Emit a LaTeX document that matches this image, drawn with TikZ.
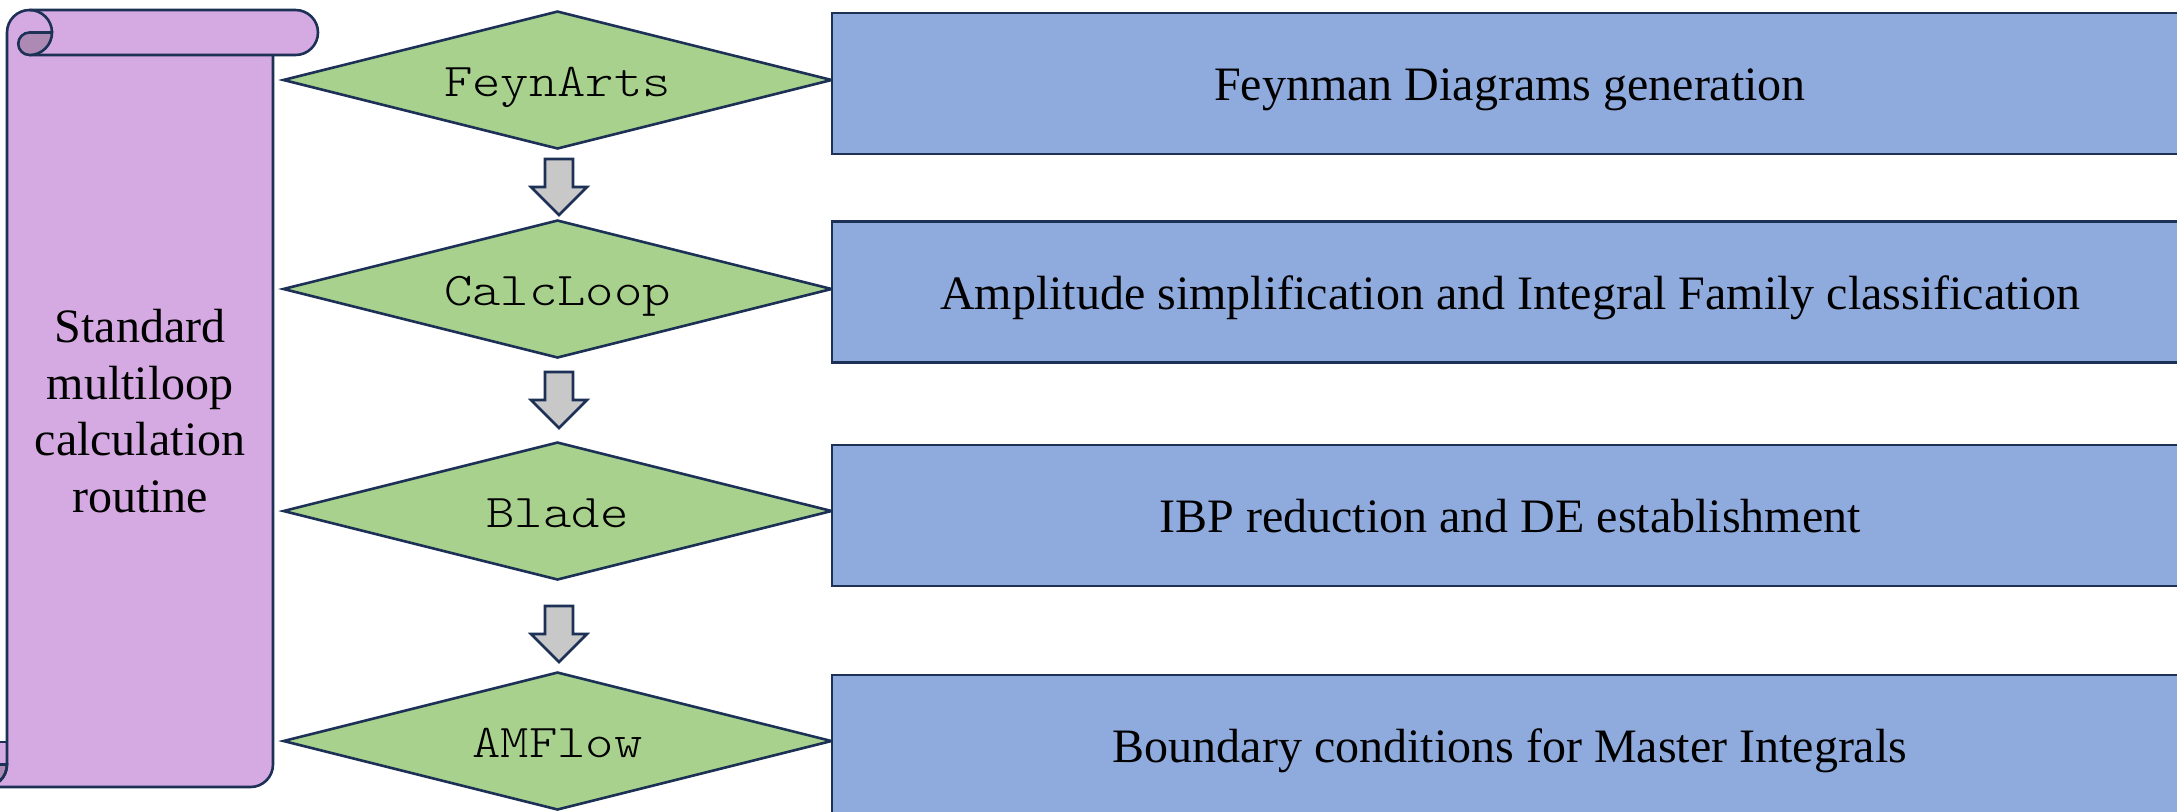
\documentclass[tikz,border=0pt]{standalone}
\usepackage{fontspec}
\setmainfont{Liberation Serif}
\setmonofont[FakeStretch=1.15]{lmmonolt10-regular.otf}
\usetikzlibrary{shapes.geometric}
\definecolor{edge}{HTML}{1C3155}
\definecolor{scrollc}{HTML}{D5A9E1}
\definecolor{curlc}{HTML}{AC8AB4}
\definecolor{toolc}{HTML}{A9D18E}
\definecolor{jobc}{HTML}{8FAADC}
\definecolor{flowc}{HTML}{C8C8C8}
\tikzset{
  tool/.style = {
    diamond, aspect=4, draw=edge, fill=toolc, inner sep=0pt,
    minimum width=274.5pt, minimum height=69pt,
    text height=21.6pt, text depth=5pt, % line box as in the slide
    font=\ttfamily\fontsize{23.5}{28}\selectfont
  },
  job/.style  = {draw=edge, fill=jobc, minimum width=678pt, minimum height=70.5pt,
    text height=21.8pt, text depth=4.8pt,
    font=\fontsize{24}{28.4}\selectfont},
  flow/.style = {draw=edge, fill=flowc}
}

\begin{document}
\begin{tikzpicture}[x=0.5pt, y=-0.5pt, line width=1.3pt]
\useasboundingbox (0,0) rectangle (2177,811);
\clip (0,0) rectangle (2177,811);
% scroll
\fill[scrollc] (7,32.5) arc (180:270:22.5) -- (295.5,10) arc (-90:90:22.5) -- (273,55)
  -- (273,764.5) arc (0:90:22.5) -- (7,787) -- cycle;
\fill[scrollc] (-20,742) rectangle (7,787);
\filldraw[fill=curlc, draw=edge] (-20,764.5) -- (7,764.5) arc (0:90:22.5) -- (-20,787);
\draw[edge] (-20,742) -- (7,742);
\draw[edge] (-15.5,787) arc (90:0:22.5) -- (7,32.5) arc (180:270:22.5) -- (295.5,10)
  arc (-90:90:22.5) -- (29.5,55);
\draw[edge] (273,55) -- (273,764.5) arc (0:90:22.5) -- (-20,787);
\draw[edge] (29.5,10) arc (-90:0:22.5);
\filldraw[fill=curlc, draw=edge] (52,32.5) -- (29.5,32.5) arc (270:90:11.25) arc (90:0:22.5) -- cycle;
\node[align=center, font=\fontsize{24}{28.4}\selectfont] (routine) at (140,411)
  {Standard\\multiloop\\calculation\\routine};
% tools
\node[tool] (feyn)  at (557.5,80)  {FeynArts};
\node[tool] (calc)  at (557.5,289) {CalcLoop};
\node[tool] (blade) at (557.5,511) {Blade};
\node[tool] (amf)   at (557.5,741) {AMFlow};
% tasks
\node[job] (gen)  at (1510,83.5)  {Feynman Diagrams generation};
\node[job] (simp) at (1510,292)   {Amplitude simplification and Integral Family classification};
\node[job] (ibp)  at (1510,515.5) {IBP reduction and DE establishment};
\node[job] (bc)   at (1510,745.5) {Boundary conditions for Master Integrals};
% block arrows
\foreach \t in {159,372,606}
  \draw[flow] (545,\t) -- ++(28,0) -- ++(0,28) -- ++(14,0) -- ++(-28,28)
    -- ++(-28,-28) -- ++(14,0) -- cycle;
\end{tikzpicture}
\end{document}
